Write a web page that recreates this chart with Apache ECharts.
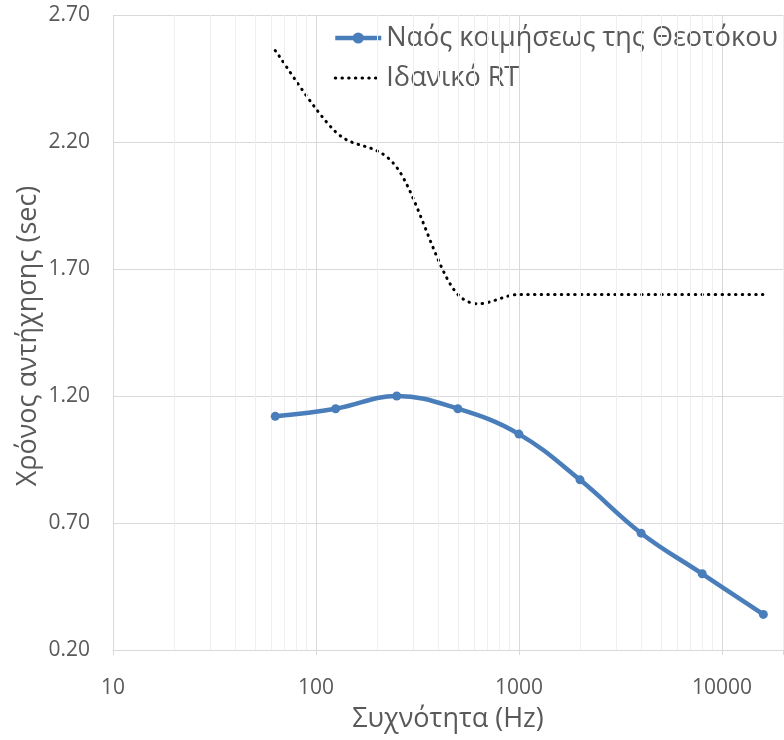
<!DOCTYPE html>
<html>
<head>
<meta charset="utf-8">
<script src="https://cdn.jsdelivr.net/npm/echarts@6/dist/echarts.min.js"></script>
<style>html,body{margin:0;padding:0;background:#fff;overflow:hidden;}#c{width:784px;height:740px;}</style>
</head>
<body>
<div id="c"></div>
<script>
const freqs = [63, 125, 250, 500, 1000, 2000, 4000, 8000, 16000];
const measuredRT = [1.12, 1.15, 1.20, 1.15, 1.05, 0.87, 0.66, 0.50, 0.34];
const idealRT = [2.56, 2.24, 2.10, 1.60, 1.60, 1.60, 1.60, 1.60, 1.60];
const majorXTicks = [10, 100, 1000, 10000];
const minorXLines = [20,30,40,50,60,70,80,90,200,300,400,500,600,700,800,900,2000,3000,4000,5000,6000,7000,8000,9000,20000];
const seriesNames = ['Ναός κοιμήσεως της Θεοτόκου', 'Ιδανικό RT'];

const FONT = '"Open Sans", "Noto Sans", sans-serif';
const TXT = '#595959';
const DOT = [0.5, 6.2];

// Excel-like smoothed path (cardinal spline through the data points, drawn via the axes' coord())
function smoothPath(api, xs, ys) {
  const p = xs.map((x, i) => api.coord([x, ys[i]]));
  let d = 'M' + p[0][0] + ' ' + p[0][1];
  for (let i = 0; i < p.length - 1; i++) {
    const p0 = p[Math.max(i - 1, 0)], p1 = p[i], p2 = p[i + 1], p3 = p[Math.min(i + 2, p.length - 1)];
    const c1 = [p1[0] + (p2[0] - p0[0]) / 6, p1[1] + (p2[1] - p0[1]) / 6];
    const c2 = [p2[0] - (p3[0] - p1[0]) / 6, p2[1] - (p3[1] - p1[1]) / 6];
    d += ' C' + c1[0] + ' ' + c1[1] + ' ' + c2[0] + ' ' + c2[1] + ' ' + p2[0] + ' ' + p2[1];
  }
  return d;
}

const chart = echarts.init(document.getElementById('c'), null, {renderer: 'canvas'});
chart.setOption({
  animation: false,
  backgroundColor: '#ffffff',
  grid: {left: 113, right: 1, top: 15, bottom: 90, containLabel: false, outerBoundsMode: 'none'},
  legend: {
    left: 328, top: 19, orient: 'vertical', align: 'left',
    itemWidth: 46, itemHeight: 14, itemGap: 12,
    textStyle: {fontFamily: FONT, fontSize: 27, color: TXT, lineHeight: 28},
    data: [
      {name: seriesNames[0], lineStyle: {width: 4.5, color: '#4a7ebb'}},
      {name: seriesNames[1], itemStyle: {opacity: 0}, lineStyle: {opacity: 1, color: '#000000', width: 3, type: DOT, cap: 'round'}}
    ]
  },
  xAxis: {
    type: 'log', logBase: 10, min: 10, max: 20000,
    name: 'Συχνότητα (Hz)', nameLocation: 'middle', nameGap: 56, nameMoveOverlap: false,
    nameTextStyle: {fontFamily: FONT, fontSize: 27, color: TXT},
    axisLine: {show: true, lineStyle: {color: '#d9d9d9', width: 1}},
    axisTick: {show: true, length: 5, lineStyle: {color: '#d9d9d9'}},
    splitLine: {show: true, lineStyle: {color: '#d9d9d9', width: 1}},
    axisLabel: {
      margin: 28, fontFamily: FONT, fontSize: 21, color: TXT,
      formatter: function (v) { const r = Math.round(v); return majorXTicks.indexOf(r) >= 0 ? String(r) : ''; }
    }
  },
  yAxis: {
    type: 'value', min: 0.2, max: 2.7, interval: 0.5,
    name: 'Χρόνος αντήχησης (sec)', nameLocation: 'middle', nameGap: 71, nameMoveOverlap: false,
    nameTextStyle: {fontFamily: FONT, fontSize: 27, color: TXT, padding: [0, 7, 0, 0]},
    axisLine: {show: false}, axisTick: {show: false},
    splitLine: {show: true, lineStyle: {color: '#d9d9d9', width: 1}},
    axisLabel: {margin: 23, fontFamily: FONT, fontSize: 21, color: TXT,
      formatter: function (v) { return v.toFixed(2); }}
  },
  series: [
    {
      name: seriesNames[0], type: 'line', smooth: 0.4,
      data: freqs.map((f, i) => [f, measuredRT[i]]),
      symbol: 'circle', symbolSize: 9,
      lineStyle: {color: '#4a7ebb', width: 4.5},
      itemStyle: {color: '#4a7ebb'},
      z: 5,
      markLine: {
        silent: true, symbol: 'none', animation: false,
        label: {show: false},
        lineStyle: {color: '#efefef', type: 'solid', width: 1},
        data: minorXLines.map(v => ({xAxis: v}))
      }
    },
    {
      name: seriesNames[1], type: 'line',
      data: freqs.map((f, i) => [f, idealRT[i]]),
      showSymbol: false, symbol: 'none',
      lineStyle: {color: '#000000', width: 3, type: DOT, cap: 'round', opacity: 0},
      itemStyle: {color: '#000000'},
      silent: true, z: 3
    },
    {
      name: seriesNames[1], type: 'custom',
      data: freqs.map((f, i) => [f, idealRT[i]]),
      encode: {x: 0, y: 1},
      z: 4, silent: true,
      renderItem: function (params, api) {
        if (params.dataIndex !== 0) return null;
        return {
          type: 'path',
          shape: {pathData: smoothPath(api, freqs, idealRT)},
          style: {fill: 'none', stroke: '#000000', lineWidth: 3, lineDash: DOT, lineCap: 'round'}
        };
      }
    }
  ]
});
</script>
</body>
</html>
